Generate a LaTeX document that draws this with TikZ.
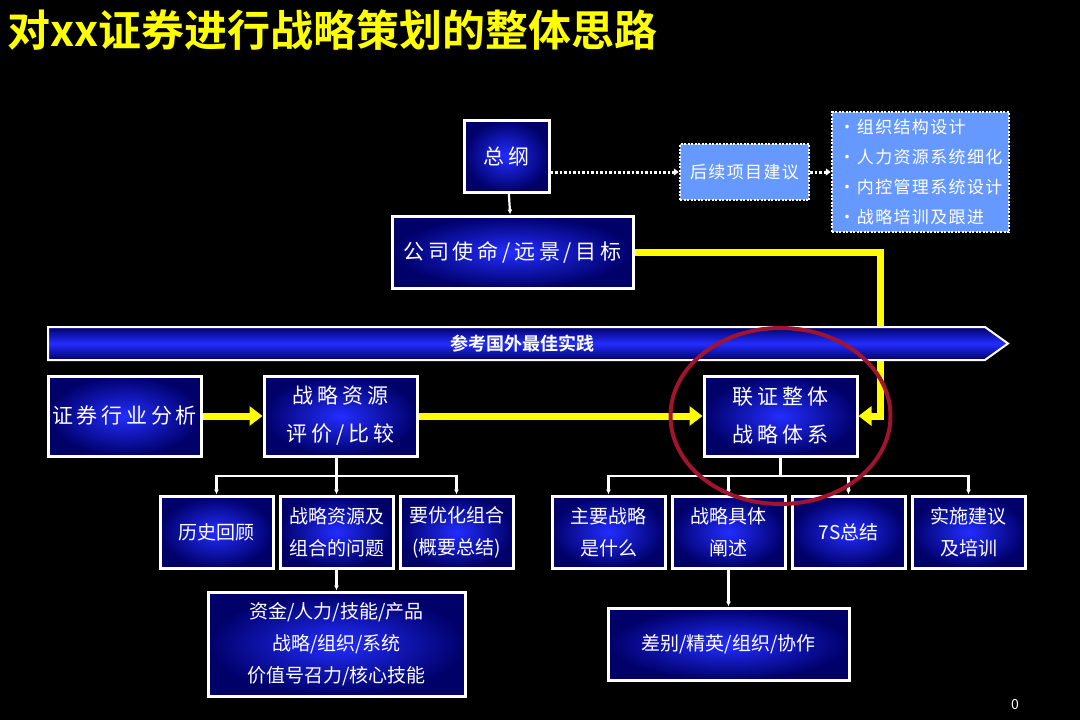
\documentclass[tikz,border=0pt]{standalone}
\usepackage{fontspec}
\newfontfamily\cjk{Noto Sans CJK SC}
\newfontfamily\cjkbold{Noto Sans CJK SC Bold}
\newfontfamily\cjkwide{Noto Sans CJK SC}[LetterSpace=18]
\newfontfamily\cjknote{Noto Sans CJK SC}[LetterSpace=8]
\usetikzlibrary{arrows.meta}
\definecolor{boxblue}{RGB}{35,45,255}
\definecolor{boxnavy}{RGB}{0,0,105}
\definecolor{lightblue}{RGB}{102,153,255}
\definecolor{ringred}{RGB}{160,20,45}
\definecolor{titleyellow}{RGB}{255,255,0}

\begin{document}
\begin{tikzpicture}[x=1pt,y=-1pt,
  box/.style={draw=white, line width=3, inner color=boxblue, outer color=boxnavy,
    text=white, align=center, inner sep=0, minimum width=153, minimum height=80,
    font=\cjkwide\fontsize{21}{38}\selectfont},
  smallbox/.style={box, minimum width=113, minimum height=72,
    font=\cjk\fontsize{19}{32}\selectfont},
  note/.style={draw=white, line width=2.5, dash pattern=on 2pt off 1.5pt, fill=lightblue,
    text=white, inner sep=0, font=\cjknote\fontsize{17}{30}\selectfont},
  yel/.style={draw=titleyellow, line width=7, -{Triangle[length=13pt,width=19pt]}},
  wire/.style={draw=white, line width=2.2, -{Latex[length=5pt,width=5pt]}},
  dots/.style={draw=white, line width=3, dash pattern=on 2.5pt off 2pt,
    -{Triangle[length=5pt,width=7pt]}}]
  \useasboundingbox[fill=black] (0,0) rectangle (1080,720);

  \node[anchor=west, text=titleyellow, font=\cjkbold\fontsize{43}{50}\selectfont]
    (title) at (4,30) {对xx证券进行战略策划的整体思路};

  % top part
  \node[box, minimum width=85, minimum height=72] (zg) at (506.5,156) {总纲};
  \node[box, minimum width=241, minimum height=72] (gs) at (512.5,252) {公司使命/远景/目标};
  \node[note, minimum width=129, minimum height=56] (hx) at (744.5,172) {后续项目建议};
  \node[note, minimum width=177, minimum height=120, align=left] (lst) at (920.5,172)
    {•组织结构设计\\•人力资源系统细化\\•内控管理系统设计\\•战略培训及跟进};
  \draw[dots] (zg.east |- hx.west) -- (hx.west);
  \draw[dots] (hx.east) -- (lst.west);
  \draw[wire] (zg) -- (gs);

  % middle row
  \coordinate (turn) at (880,416);
  \node[box] (hy) at (124.5,416) {证券行业分析};
  \node[box] (zy) at (340.5,416) {战略资源\\评价/比较};
  \node[box] (lz) at (780.5,416) {联证整体\\战略体系};
  \draw[yel] (hy) -- (zy);
  \draw[yel] (zy) -- (lz);
  \draw[yel] (gs.east) -| (turn) -- (lz.east);

  \shade[top color=boxnavy, bottom color=boxnavy, middle color=boxblue, draw=white, line width=2]
    (48,327) -- (985,327) -- (1008,343.5) -- (985,360) -- (48,360) -- cycle;
  \node[text=white, font=\cjkbold\fontsize{18}{20}\selectfont] (ck) at (522,343.5) {参考国外最佳实践};

  % left tree
  \node[smallbox] (ls) at (216.5,532) {历史回顾};
  \node[smallbox] (wt) at (336.5,532) {战略资源及\\组合的问题};
  \node[smallbox] (yh) at (456.5,532) {要优化组合\\(概要总结)};
  \node[smallbox, minimum width=257, minimum height=104] (zj) at (336.5,644)
    {资金/人力/技能/产品\\战略/组织/系统\\价值号召力/核心技能};
  \coordinate (lbar) at (336.5,476);
  \draw[wire] (zy.south -| lbar) -- (lbar) -| (ls.north);
  \draw[wire] (lbar) -| (yh.north);
  \draw[wire] (lbar) -- (wt.north);
  \draw[wire] (wt) -- (zj);

  % right tree
  \node[smallbox] (zs) at (608.5,532) {主要战略\\是什么};
  \node[smallbox] (jt) at (728.5,532) {战略具体\\阐述};
  \node[smallbox] (qs) at (848.5,532) {7S总结};
  \node[smallbox] (ss) at (968.5,532) {实施建议\\及培训};
  \node[smallbox, minimum width=241, minimum height=72] (cb) at (728.5,644) {差别/精英/组织/协作};
  \coordinate (rbar) at (780.5,476);
  \draw[wire] (lz) -- (rbar) -| (zs.north);
  \draw[wire] (rbar) -| (jt.north);
  \draw[wire] (rbar) -| (qs.north);
  \draw[wire] (rbar) -| (ss.north);
  \draw[wire] (jt) -- (cb);

  \draw[ringred, line width=4] (lz.center) ellipse [x radius=110, y radius=88];
  \node[text=white, font=\cjk\fontsize{14}{16}\selectfont] (pg) at (1015,705) {0};
\end{tikzpicture}
\end{document}
